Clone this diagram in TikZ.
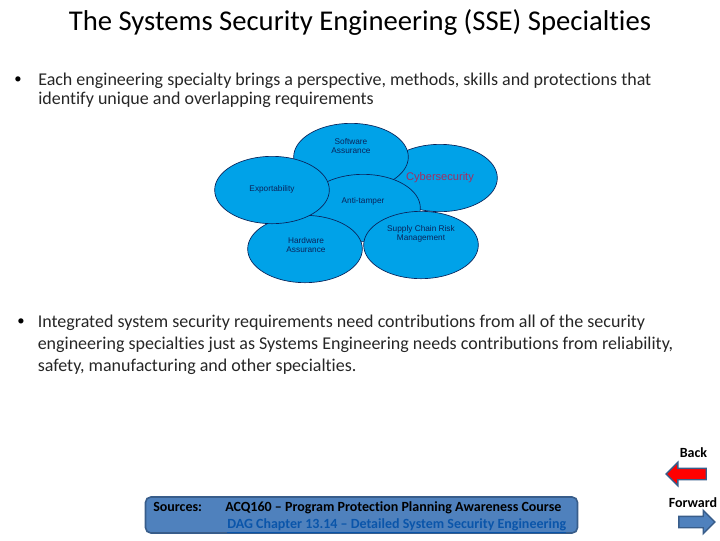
\documentclass[tikz,border=0pt]{standalone}
\usepackage{fontspec}
\setmainfont[Ligatures=NoCommon]{Carlito}
\newfontfamily\labelfont{Liberation Sans}
\usetikzlibrary{shapes.geometric}
\usetikzlibrary{shapes.arrows}
\definecolor{specialtyblue}{RGB}{0,162,232}
\definecolor{specialtyline}{RGB}{10,35,90}
\definecolor{boxblue}{RGB}{79,129,189}
\definecolor{boxline}{RGB}{56,93,138}
\definecolor{linkblue}{RGB}{10,85,170}
\definecolor{cyberred}{RGB}{165,45,95}
\tikzstyle{specialty}=[ellipse,draw=specialtyline,fill=specialtyblue,line width=0.5pt,minimum width=86pt,minimum height=50.5pt,inner sep=0pt]
\tikzstyle{specialtylabel}=[font=\labelfont\fontsize{6.2}{7}\selectfont,text=specialtyline,align=center,inner sep=0pt]
\tikzstyle{bullettext}=[anchor=north west,align=left,inner sep=0pt,text=black!85]
\tikzstyle{bulletdot}=[inner sep=0pt,font=\fontsize{11}{12}\selectfont]
\tikzstyle{navarrow}=[single arrow,draw=boxline,line width=1pt,single arrow head extend=4.5pt,inner sep=3.75pt,inner xsep=0pt]
\tikzstyle{navlabel}=[font=\bfseries\fontsize{10.5}{12}\selectfont,inner sep=0pt]
\begin{document}
\begin{tikzpicture}[x=0.75pt,y=-0.75pt]
  \useasboundingbox (0,0) rectangle (720,540);
  \node[font=\fontsize{21.5}{25}\selectfont] (title) at (360,22) {The Systems Security Engineering (SSE) Specialties};
  % first bullet
  \node[bulletdot] (bulletone) at (18,80) {\textbullet};
  \node[bullettext,font=\fontsize{13.5}{14.3}\selectfont] (textone) at (38,73) {Each engineering specialty brings a perspective, methods, skills and protections that\\identify unique and overlapping requirements};
  % the ellipses, lowest first
  \foreach \name/\x/\y in {cyber/440/178,software/351/157,antitamper/363/208,hardware/305/249,exportability/272/190,supply/421/245} {
    \node[specialty] (\name) at (\x,\y) {};
  }
  \node[specialtylabel] (softwarelabel) at (351,146) {Software\\Assurance};
  \node[specialtylabel,font=\labelfont\fontsize{8.3}{9}\selectfont,text=cyberred] (cyberlabel) at (440,178) {Cybersecurity};
  \node[specialtylabel] (exportlabel) at (272,189) {Exportability};
  \node[specialtylabel] (antilabel) at (363,201) {Anti-tamper};
  \node[specialtylabel] (hardwarelabel) at (306,245) {Hardware\\Assurance};
  \node[specialtylabel] (supplylabel) at (421,234) {Supply Chain Risk\\Management};
  % second bullet
  \node[bulletdot] (bullettwo) at (21,322) {\textbullet};
  \node[bullettext,font=\fontsize{13.5}{16.5}\selectfont] (texttwo) at (37.5,315) {Integrated system security requirements need contributions from all of the security\\engineering specialties just as Systems Engineering needs contributions from reliability,\\safety, manufacturing and other specialties.};
  % sources
  \node[draw=boxline,fill=boxblue,line width=1.2pt,rounded corners=4pt,minimum width=324pt,minimum height=27pt,inner sep=0pt] (sources) at (361.5,515) {};
  \node[navlabel,anchor=base west] (sourceslabel) at (153,511) {Sources:};
  \node[navlabel,anchor=base west] (acq) at (225,511) {ACQ160 -- Program Protection Planning Awareness Course};
  \node[navlabel,anchor=base west,text=linkblue] (dag) at (227,528) {\underline{DAG Chapter 13.14 -- Detailed System Security Engineering}};
  % navigation
  \node[navlabel] (backlabel) at (693.5,453) {Back};
  \node[navarrow,fill=red,minimum height=30pt,shape border rotate=180] (back) at (689,474) {};
  \node[navlabel] (forwardlabel) at (693,503) {Forward};
  \node[navarrow,fill=boxblue,minimum height=27pt] (forward) at (694,522) {};
\end{tikzpicture}
\end{document}
